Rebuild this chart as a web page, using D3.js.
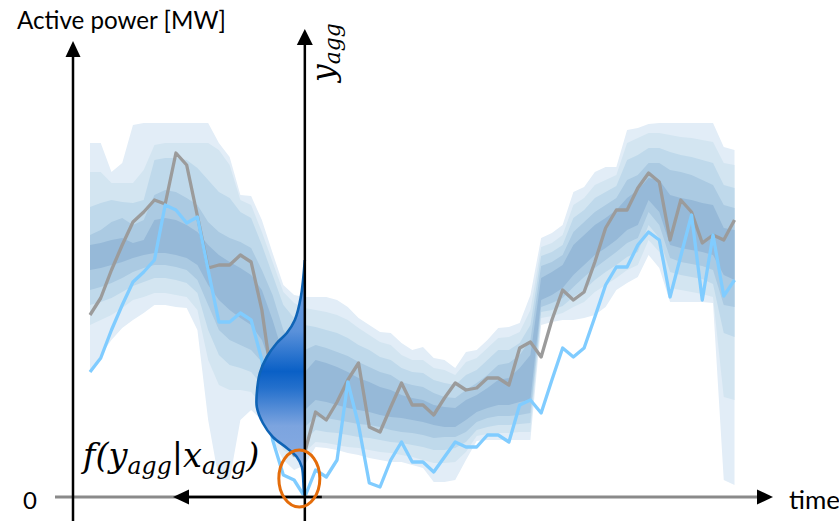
<!DOCTYPE html>
<html><head><meta charset="utf-8">
<script src="https://cdn.jsdelivr.net/npm/d3@7"></script>
<style>html,body{margin:0;padding:0;background:#fff;} svg{display:block;}</style>
</head><body>
<svg id="chart" width="839" height="521"></svg>
<script>
// ---------- DATA ----------
const timeSteps = d3.range(61);          // time index of each forecast step
const densityTime = 20;                  // time step where the conditional density is shown

// quantiles of the probabilistic forecast [MW]
const q95 = [354,354,325,334,372,374,374,374,374,374,374,374,354,340,302,301,277,244,212,202,200,200,200,197,190,179,172,165,164,154,147,150,139,137,129,145,147,157,169,170,174,202,259,264,272,305,310,325,330,330,367,369,373,374,374,374,374,374,374,350,347];
const q90 = [325,325,314,314,314,327,352,354,354,354,354,354,347,332,297,292,265,235,205,194,189,187,185,182,177,169,162,155,152,142,137,137,129,127,122,135,139,149,159,160,165,187,250,254,262,292,299,312,317,322,354,359,364,364,362,360,359,357,355,334,332];
const q80 = [290,294,297,295,294,297,337,339,339,337,329,317,305,299,285,279,252,222,192,179,172,170,167,164,159,152,147,140,137,129,125,124,117,114,112,122,127,137,147,147,154,172,241,245,252,279,287,299,305,311,337,342,349,349,345,342,340,337,334,312,309];
const q70 = [262,267,275,279,272,277,302,307,305,299,292,275,265,259,255,249,227,202,167,152,147,152,149,145,141,135,130,125,122,115,112,110,104,100,99,107,114,122,132,134,142,157,231,235,242,265,275,285,292,299,317,322,334,334,327,325,322,317,312,292,289];
const q60 = [252,254,257,259,254,257,277,279,277,272,265,252,242,235,229,222,207,177,142,125,125,137,134,130,125,119,115,110,107,102,99,97,92,90,89,97,102,109,117,119,129,142,219,225,232,252,262,272,279,287,299,307,319,317,302,299,297,294,292,269,267];
const q40 = [227,229,232,235,239,242,244,244,242,239,232,212,197,187,179,172,157,127,97,82,87,97,95,92,89,87,85,82,80,79,77,75,72,70,70,77,85,89,92,92,95,97,197,202,209,222,232,242,249,257,267,272,297,285,252,249,247,245,242,222,217];
const q30 = [207,210,214,219,225,229,232,232,230,227,217,192,167,157,152,147,135,105,77,65,70,80,79,77,75,73,72,70,67,65,64,62,59,60,60,65,75,79,81,81,82,84,190,194,199,210,220,229,237,245,254,259,285,272,239,235,233,231,227,192,190];
const q20 = [192,195,199,205,211,215,219,219,217,214,204,167,142,132,129,125,112,87,62,52,57,67,65,64,62,60,59,57,55,54,52,50,47,47,49,55,67,70,72,72,73,74,185,187,191,200,207,217,225,232,240,245,272,259,225,222,220,218,213,164,160];
const q10 = [172,177,182,189,197,200,204,204,202,200,187,137,112,107,107,105,92,69,47,39,45,55,54,52,50,49,47,45,44,42,40,37,34,34,35,45,61,63,64,64,65,65,179,181,184,190,195,205,212,219,227,232,257,245,209,207,205,203,200,100,97];
const q05 = [125,142,157,169,177,184,192,192,190,189,167,77,17,17,77,87,77,57,37,27,32,50,49,47,44,42,39,37,35,35,32,29,15,15,17,37,56,57,57,57,57,57,172,175,177,177,179,182,190,207,214,220,242,229,195,195,195,195,194,17,12];

// measured aggregated power (grey) and second series (light blue) [MW]
const measured = [182,199,227,252,275,285,297,293,344,332,281,229,232,232,242,235,187,112,77,42,45,85,77,95,117,134,70,65,90,114,92,92,82,99,114,107,109,119,119,112,149,155,140,177,207,197,205,235,269,287,287,309,324,315,257,297,285,254,262,257,277];
const baseline = [125,139,167,192,215,225,237,292,287,274,280,227,175,175,184,177,137,57,22,17,0,27,20,37,115,72,14,10,37,55,35,35,25,40,55,50,50,62,62,55,92,97,84,117,149,140,149,180,212,230,230,252,265,257,200,241,282,197,262,201,217];

// conditional density f(y_agg | x_agg) at the density time step
const densityPower = [237,200,177,164,154,140,124,104,90,74,60,49,40,30,7,0];
const densityValue = [0,4,10,18,28,38,45,48,48,42,32,18,8,3,1,0];

const bandPairs = [[q05,q95],[q10,q90],[q20,q80],[q30,q70],[q40,q60]];
const bandColors = ['#e2edf7','#d3e5f1','#bfd9eb','#abcae2','#96b9d8'];

// ---------- SCALES ----------
const svg = d3.select('#chart');
const x = d3.scaleLinear().domain([0, 60]).range([90, 734.5]);
const y = d3.scaleLinear().domain([0, 450]).range([497, 47]);
const axis2X = x(densityTime);
const fx = d3.scaleLinear().domain([0, 50]).range([axis2X, axis2X - 50]);
const axis1X = 73;
const zeroY = y(0);

// ---------- FAN ----------
bandPairs.forEach((p, k) => {
  const area = d3.area()
    .x(i => x(i))
    .y0(i => y(p[0][i]))
    .y1(i => y(p[1][i]));
  svg.append('path').attr('d', area(timeSteps)).attr('fill', bandColors[k]);
});

// ---------- LINES ----------
const line = arr => d3.line().x(i => x(i)).y(i => y(arr[i]))(timeSteps);
svg.append('path').attr('d', line(measured)).attr('fill','none')
  .attr('stroke','#9b9b9b').attr('stroke-width',3.3).attr('stroke-linejoin','round');
svg.append('path').attr('d', line(baseline)).attr('fill','none')
  .attr('stroke','#80ccff').attr('stroke-width',3.3).attr('stroke-linejoin','round');

// ---------- DENSITY ----------
const defs = svg.append('defs');
const grad = defs.append('linearGradient').attr('id','dens')
  .attr('gradientUnits','userSpaceOnUse')
  .attr('x1',0).attr('x2',0).attr('y1',y(densityPower[0])).attr('y2',zeroY);
[[0,'#6f9fe0'],[0.3,'#5a91da'],[0.47,'#0a60c6'],[0.54,'#2470cc'],[0.7,'#7ca4df'],[1,'#90b2e5']]
  .forEach(s => grad.append('stop').attr('offset',s[0]).attr('stop-color',s[1]));
const dens = densityPower.map((v,i) => ({v, w: densityValue[i]}));
const dArea = d3.area().curve(d3.curveCatmullRom.alpha(0.5))
  .y(d => y(d.v)).x0(axis2X).x1(d => fx(d.w));
svg.append('path').attr('d', dArea(dens)).attr('fill','url(#dens)');
const dLine = d3.line().curve(d3.curveCatmullRom.alpha(0.5)).x(d => fx(d.w)).y(d => y(d.v));
svg.append('path').attr('d', dLine(dens)).attr('fill','none')
  .attr('stroke','#0f64b6').attr('stroke-width',2.6);

// ---------- AXES ----------
svg.append('line').attr('x1',55).attr('x2',760).attr('y1',zeroY).attr('y2',zeroY)
  .attr('stroke','#8a8a8a').attr('stroke-width',3);
svg.append('polygon').attr('points',`773,${zeroY} 757,${zeroY-7.5} 757,${zeroY+7.5}`).attr('fill','#000');
svg.append('line').attr('x1',axis2X+17).attr('x2',188).attr('y1',zeroY).attr('y2',zeroY)
  .attr('stroke','#000').attr('stroke-width',2.5);
svg.append('polygon').attr('points',`173,${zeroY} 189,${zeroY-7.5} 189,${zeroY+7.5}`).attr('fill','#000');
svg.append('line').attr('x1',axis1X).attr('x2',axis1X).attr('y1',521).attr('y2',55)
  .attr('stroke','#000').attr('stroke-width',2.5);
svg.append('polygon').attr('points',`${axis1X},41 ${axis1X-7.5},57 ${axis1X+7.5},57`).attr('fill','#000');
svg.append('line').attr('x1',axis2X).attr('x2',axis2X).attr('y1',521).attr('y2',43)
  .attr('stroke','#000').attr('stroke-width',2.5);
svg.append('polygon').attr('points',`${axis2X},29 ${axis2X-8},45 ${axis2X+8},45`).attr('fill','#000');

// orange marker ellipse
svg.append('ellipse').attr('cx',axis2X-5.5).attr('cy',478.5).attr('rx',20.5).attr('ry',28.5)
  .attr('fill','none').attr('stroke','#e46c0a').attr('stroke-width',3);

// ---------- TEXT ----------
function fitWidth(build, target, s0) {
  let g = build(s0);
  const w = g.node().getBBox().width;
  g.remove();
  return build(s0 * target / w);
}
fitWidth(s => svg.append('text').attr('x',17).attr('y',29)
  .attr('font-family','Lato, "Open Sans", sans-serif').attr('font-size',s).attr('fill','#000')
  .text('Active power [MW]'), 209, 22);
svg.append('text').attr('x',23).attr('y',509).attr('font-family','Lato, sans-serif')
  .attr('font-size',24).text('0');
fitWidth(s => svg.append('text').attr('x',789).attr('y',509)
  .attr('font-family','Lato, sans-serif').attr('font-size',s).text('time'), 51, 22);

fitWidth(s => {
  const t = svg.append('text').attr('x',83).attr('y',467)
    .attr('font-family','"DejaVu Serif", serif').attr('font-style','italic').attr('font-size',s);
  t.append('tspan').text('f(y');
  t.append('tspan').attr('font-size',s*0.7).attr('dy',s*0.22).text('agg');
  t.append('tspan').attr('dy',-s*0.22).attr('font-style','normal').text('|');
  t.append('tspan').text('x');
  t.append('tspan').attr('font-size',s*0.7).attr('dy',s*0.22).text('agg');
  t.append('tspan').attr('dy',-s*0.22).text(')');
  return t;
}, 179, 26);

fitWidth(s => {
  const g = svg.append('g').attr('transform',`translate(334,82) rotate(-90)`);
  const t = g.append('text').attr('font-family','"DejaVu Serif", serif')
    .attr('font-style','italic').attr('font-size',s);
  t.append('tspan').text('y');
  t.append('tspan').attr('font-size',s*0.7).attr('dy',s*0.2).text('agg');
  return g;
}, 60, 26);
</script>
</body></html>
